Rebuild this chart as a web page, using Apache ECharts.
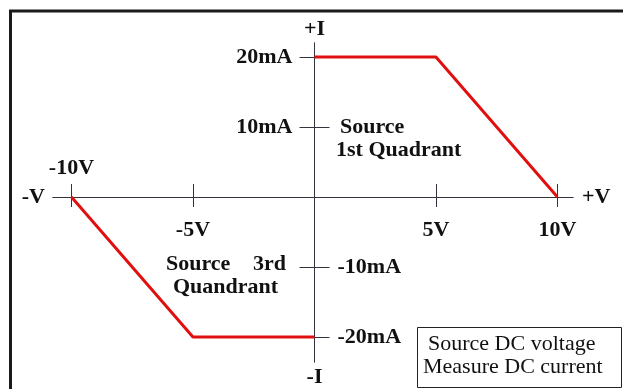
<!DOCTYPE html>
<html>
<head>
<meta charset="utf-8">
<script src="https://cdn.jsdelivr.net/npm/echarts@6/dist/echarts.min.js"></script>
<style>
  html, body { margin: 0; padding: 0; background: #fff; }
  #chart { width: 623px; height: 389px; }
</style>
</head>
<body>
<div id="chart"></div>
<script>
// source voltage (V) / measured current (mA)
var q1Volt = [0, 5, 10]
var q1Curr = [20, 20, 0]
var q3Volt = [-10, -5, 0]
var q3Curr = [0, -20, -20]

// ticks and labels
var xTicks = [-10, -5, 5, 10]
var xLabelsBelow = [-5, 5, 10]
var xLabelsAbove = [-10]
var yTicks = [20, 10, -10, -20]
var yLabelsLeft = [20, 10]
var yLabelsRight = [-10, -20]

var axisColor = '#333340'
var font = 'Liberation Serif'
var labelStyle = {
  fontFamily: font,
  fontWeight: 'bold',
  fontSize: 22,
  color: '#111'
}

function pairs(xs, ys) {
  var out = []
  for (var i = 0; i < xs.length; i++) {
    out.push([xs[i], ys[i]])
  }
  return out
}

// grid 53..573 x 43..362, origin lands at about (314.5, 197)
function xAxisCfg(pos, offset, labels, name, nameLoc, nameGap, margin) {
  return {
    type: 'value',
    position: pos,
    offset: offset,
    min: -10.76,
    max: 10.64,
    name: name,
    nameLocation: nameLoc,
    nameGap: nameGap,
    nameTextStyle: labelStyle,
    axisLine: { show: true, onZero: false, lineStyle: { color: axisColor, width: 1 } },
    axisTick: { show: true, customValues: xTicks, length: pos === 'top' ? 13 : 10, lineStyle: { color: axisColor } },
    axisLabel: Object.assign({
      customValues: labels,
      margin: margin,
      formatter: function (v) { return v + 'V' }
    }, labelStyle),
    splitLine: { show: false }
  }
}

function yAxisCfg(pos, offset, labels, name, nameLoc, nameGap, margin) {
  return {
    type: 'value',
    position: pos,
    offset: offset,
    min: -23.57,
    max: 22,
    name: name,
    nameLocation: nameLoc,
    nameGap: nameGap,
    nameTextStyle: labelStyle,
    axisLine: { show: true, onZero: false, lineStyle: { color: axisColor, width: 1 } },
    axisTick: { show: true, customValues: yTicks, length: 15, lineStyle: { color: axisColor } },
    axisLabel: Object.assign({
      customValues: labels,
      margin: margin,
      formatter: function (v) { return v + 'mA' }
    }, labelStyle),
    splitLine: { show: false }
  }
}

var myChart = echarts.init(document.getElementById('chart'))
var option = {
  animation: false,
  backgroundColor: '#fff',
  grid: { left: 53, right: 50, top: 43, bottom: 27, outerBoundsMode: 'none', containLabel: false },
  xAxis: [
    xAxisCfg('bottom', -165, xLabelsBelow, '+V', 'end', 9, 22),
    xAxisCfg('top', -154, xLabelsAbove, '-V', 'start', 8, 18)
  ],
  yAxis: [
    yAxisCfg('left', -261.5, yLabelsLeft, '+I', 'end', 3, 22),
    yAxisCfg('right', -258.5, yLabelsRight, '-I', 'start', 4, 23)
  ],
  series: [
    {
      type: 'line',
      data: pairs(q1Volt, q1Curr),
      symbol: 'none',
      lineStyle: { color: '#e01010', width: 3 }
    },
    {
      type: 'line',
      data: pairs(q3Volt, q3Curr),
      symbol: 'none',
      lineStyle: { color: '#e01010', width: 3 }
    }
  ],
  graphic: [
    {
      type: 'rect',
      shape: { x: 10.5, y: 11, width: 700, height: 500 },
      style: { fill: 'none', stroke: '#1a1a1a', lineWidth: 3 },
      silent: true
    },
    { type: 'text', left: 340, top: 116, style: { text: 'Source', font: 'bold 22px "Liberation Serif"', fill: '#111' } },
    { type: 'text', left: 336, top: 139, style: { text: '1st Quadrant', font: 'bold 22px "Liberation Serif"', fill: '#111' } },
    { type: 'text', left: 166, top: 253, style: { text: 'Source', font: 'bold 22px "Liberation Serif"', fill: '#111' } },
    { type: 'text', left: 253, top: 253, style: { text: '3rd', font: 'bold 22px "Liberation Serif"', fill: '#111' } },
    { type: 'text', left: 173, top: 276, style: { text: 'Quandrant', font: 'bold 22px "Liberation Serif"', fill: '#111' } },
    {
      type: 'rect',
      shape: { x: 417.5, y: 327.5, width: 204, height: 60 },
      style: { fill: '#fff', stroke: '#222', lineWidth: 1 }
    },
    { type: 'text', left: 428, top: 333, style: { text: 'Source DC voltage', font: '22px "Liberation Serif"', fill: '#111' } },
    { type: 'text', left: 423, top: 356, style: { text: 'Measure DC current', font: '22px "Liberation Serif"', fill: '#111' } }
  ]
}
myChart.setOption(option)
</script>
</body>
</html>
